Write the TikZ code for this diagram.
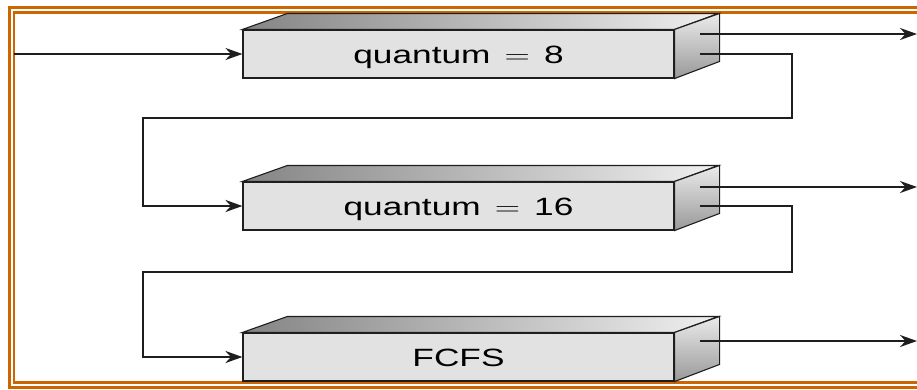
\documentclass[tikz,border=0pt]{standalone}
\usepackage{fontspec}
\usepackage{graphicx}
\setmainfont{Liberation Sans}
\usetikzlibrary{arrows.meta}
\definecolor{frameorange}{HTML}{CC6600}
\definecolor{linedark}{HTML}{1E1E1E}
\definecolor{frontgray}{HTML}{E2E2E2}
\tikzset{
  front/.style={draw=linedark, line width=1.1pt, fill=frontgray, minimum width=431pt,
    minimum height=48pt, inner sep=0pt, text height=18pt, text depth=0pt,
    font=\fontsize{25}{25}\selectfont},
  topface/.style={draw=linedark, line width=1.1pt, left color=black!48, right color=black!6},
  sideface/.style={draw=linedark, line width=1.1pt, top color=black!8, bottom color=black!40},
  flow/.style={draw=linedark, line width=2.2pt, -{Stealth[length=17pt,width=12pt]}},
  loop/.style={draw=linedark, line width=2.8pt, -{Stealth[length=17pt,width=12pt]}},
  frame/.style={draw=frameorange}
}
\newcommand{\wide}[1]{\scalebox{1.41}[1]{#1}}
\newcommand{\eqgap}{\hspace{0.4em}$=$\hspace{0.4em}}
\begin{document}
\begin{tikzpicture}[x=1pt,y=-1pt]
\useasboundingbox (0,0) rectangle (917,389);
% double frame (open on the right, as cropped)
\draw[frame, line width=3pt] (917,7.5) -- (9.5,7.5) -- (9.5,387) -- (917,387);
\draw[frame, line width=2.5pt] (917,12.3) -- (14,12.3) -- (14,382.7) -- (917,382.7);

% queues
\foreach \n/\cy/\txt in {q1/54/{quantum\eqgap 8}, q2/206/{quantum\eqgap 16}, q3/357/{FCFS}}{
  \node[front] (\n) at (458.5,\cy) {\wide{\txt}};
  \path[topface] (\n.north west) -- ++(45,-16) -- ++(431,0) -- (\n.north east) -- cycle;
  \path[sideface] (\n.north east) -- ++(45,-16) -- ++(0,48) -- (\n.south east) -- cycle;
}

% free ends
\coordinate (in1) at (14,54);
\coordinate (s1a) at (700,34);
\coordinate (s1b) at (700,54);
\coordinate (o1) at (917,34);
\coordinate (s2a) at (700,187);
\coordinate (s2b) at (700,206);
\coordinate (o2) at (917,187);
\coordinate (s3) at (700,341);
\coordinate (o3) at (917,341);

\draw[flow] (in1) -- (q1.west);
\draw[flow] (s1a) -- (o1);
\draw[loop] (s1b) -- (792,54) -- (792,118) -- (143,118) -- (143,206) -- (q2.west);
\draw[flow] (s2a) -- (o2);
\draw[loop] (s2b) -- (792,206) -- (792,272) -- (143,272) -- (143,357) -- (q3.west);
\draw[flow] (s3) -- (o3);
\end{tikzpicture}
\end{document}
